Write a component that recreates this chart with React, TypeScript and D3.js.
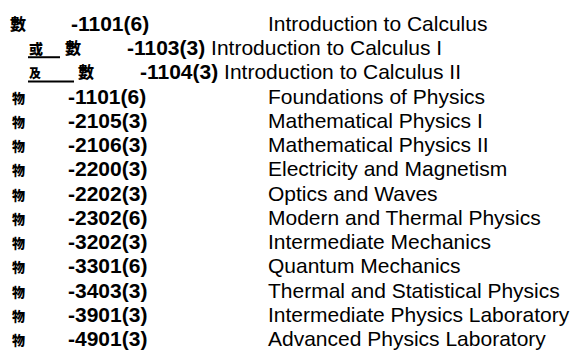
import * as d3 from "d3";

// course list, one entry per line
const subjects = ["數", "數", "數", "物", "物", "物", "物", "物", "物", "物", "物", "物", "物", "物"];
const connectors = ["", "或", "及", "", "", "", "", "", "", "", "", "", "", ""];
const codes = [
  "-1101(6)", "-1103(3)", "-1104(3)", "-1101(6)", "-2105(3)", "-2106(3)", "-2200(3)",
  "-2202(3)", "-2302(6)", "-3202(3)", "-3301(6)", "-3403(3)", "-3901(3)", "-4901(3)",
];
const titles = [
  "Introduction to Calculus",
  "Introduction to Calculus I",
  "Introduction to Calculus II",
  "Foundations of Physics",
  "Mathematical Physics I",
  "Mathematical Physics II",
  "Electricity and Magnetism",
  "Optics and Waves",
  "Modern and Thermal Physics",
  "Intermediate Mechanics",
  "Quantum Mechanics",
  "Thermal and Statistical Physics",
  "Intermediate Physics Laboratory",
  "Advanced Physics Laboratory",
];

const width = 576;
const height = 352;
const font = "'Liberation Sans', Arial, sans-serif";
const cjk = "'Noto Sans CJK TC', 'Noto Sans CJK SC', sans-serif";

export default function App() {
  // one baseline per line
  const y = d3.scalePoint<number>()
    .domain(d3.range(codes.length))
    .range([31, 346]);

  return (
    <>
      <style>{`body{margin:0}`}</style>
      <svg width={width} height={height} style={{ display: "block", background: "#fff" }}>
        {codes.map((code, i) => {
          const by = y(i)!;
          const sub = connectors[i] !== "";
          // the "and" line is tabbed a little further than the "or" line
          const shift = i === 2 ? 13 : 0;
          if (!sub) {
            return (
              <g key={i}>
                <text x={i === 0 ? 10 : 12} y={by - 1} fontFamily={cjk} fontWeight={900}
                  fontSize={i === 0 ? 16 : 13}>{subjects[i]}</text>
                <text x={i === 0 ? 71 : 68} y={by} fontFamily={font} fontSize={21} fontWeight="bold">
                  {code}
                </text>
                <text x={268} y={by} fontFamily={font} fontSize={21}>{titles[i]}</text>
              </g>
            );
          }
          return (
            <g key={i}>
              <text x={29} y={by - 1} fontFamily={cjk} fontWeight={900} fontSize={i === 2 ? 12 : 14}>
                {connectors[i]}
              </text>
              <line x1={28} x2={i === 2 ? 74 : 60} y1={by + 2} y2={by + 2} stroke="#000" strokeWidth={2} />
              <text x={65 + shift} y={by - 1} fontFamily={cjk} fontWeight={900} fontSize={16}>
                {subjects[i]}
              </text>
              <text x={127 + shift} y={by} fontFamily={font} fontSize={21}>
                <tspan fontWeight="bold">{code}</tspan>{" "}{titles[i]}
              </text>
            </g>
          );
        })}
      </svg>
    </>
  );
}
